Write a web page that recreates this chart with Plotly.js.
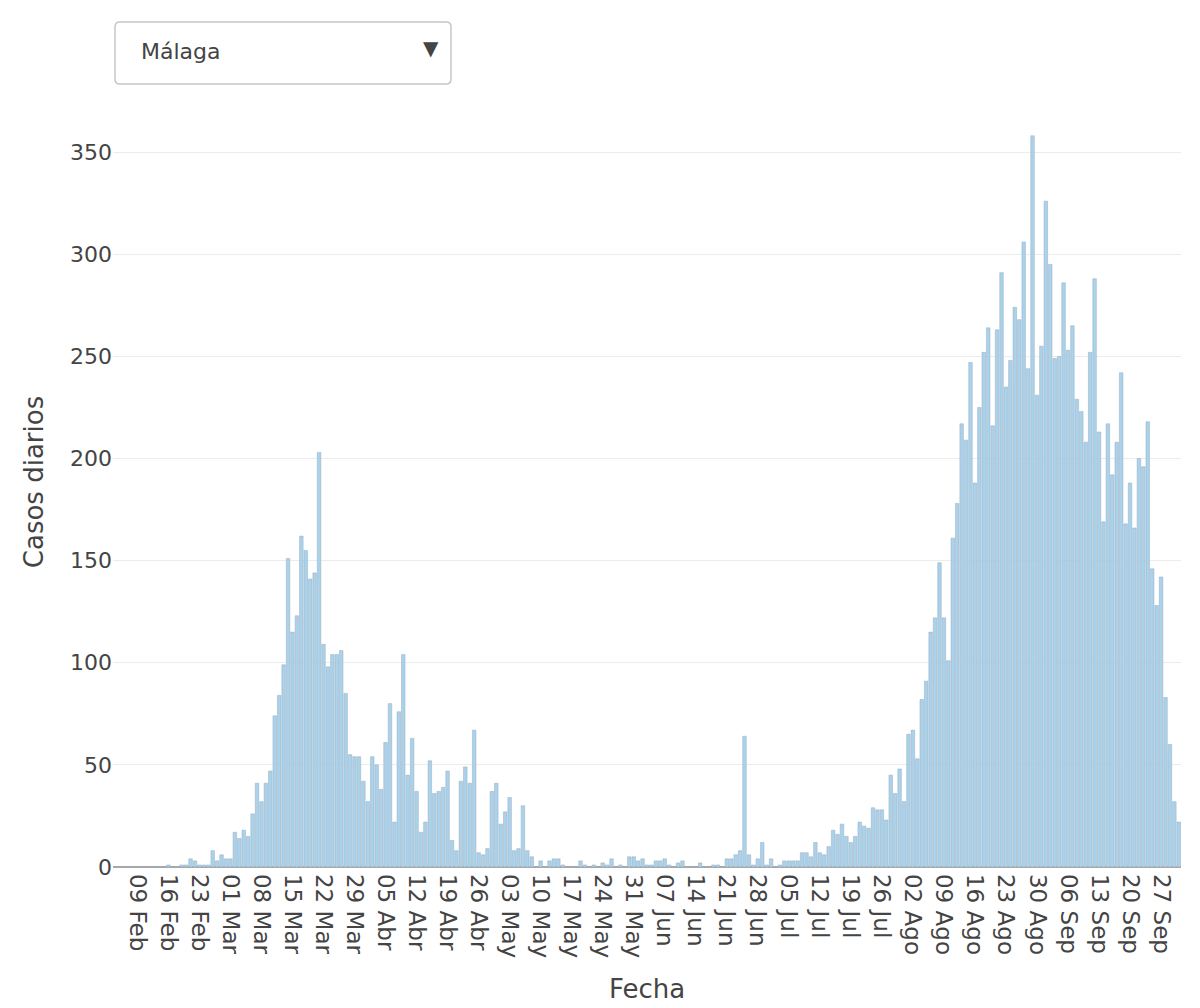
<!DOCTYPE html>
<html lang="es">
<head>
<meta charset="utf-8">
<title>Casos diarios – Málaga</title>
<script src="https://cdn.plot.ly/plotly-3.0.1.min.js"></script>
<style>
  html, body { margin: 0; padding: 0; background: #fff; }
  #chart { width: 1200px; height: 1008px; }
</style>
</head>
<body>
<div id="chart"></div>
<script>
// ── Casos diarios confirmados, provincia de Málaga ─────────────────────────────
const provincia = 'Málaga';
const primerDia = '2020-02-04';

// un valor por día, del primer día al 01 Oct
const casosFeb = [0, 0,0,0,0,0,0,0,0,0,0,0, 1,0,0,1,1,4,3,1,1,1,8,3,6,4];
const casosMar = [4,17,14,18,15,26,41,32,41,47,74,84,99,151,115,123,162,155,141,144,203,109,98,104,104,106,85,55,54,54,42];
const casosAbr = [32,54,50,38,61,80,22,76,104,45,63,37,17,22,52,36,37,39,47,13,8,42,49,41,67,7,6,9,37,41];
const casosMay = [21,27,34,8,9,30,8,5,0,3,0,3,4,4,1,0,0,0,3,1,0,1,0,2,1,4,0,1,0,5,5];
const casosJun = [3,4,1,1,3,3,4,1,0,2,3,0,0,0,2,0,0,1,1,0,4,4,6,8,64,6,1,4,12,1];
const casosJul = [4,0,1,3,3,3,3,7,7,5,12,7,6,10,18,16,21,15,12,15,22,20,19,29,28,28,23,45,36,48,32];
const casosAgo = [65,67,53,82,91,115,122,149,122,101,161,178,217,209,247,188,225,252,264,216,263,291,235,248,274,268,306,244,358,231,255];
const casosSep = [326,295,249,250,286,253,265,229,223,208,252,288,213,169,217,192,208,242,168,188,166,200,196,218,146,128,142,83,60,32];
const casosOct = [22];

const tickFechas = ['2020-02-09','2020-02-16','2020-02-23','2020-03-01','2020-03-08','2020-03-15','2020-03-22','2020-03-29',
  '2020-04-05','2020-04-12','2020-04-19','2020-04-26','2020-05-03','2020-05-10','2020-05-17','2020-05-24','2020-05-31',
  '2020-06-07','2020-06-14','2020-06-21','2020-06-28','2020-07-05','2020-07-12','2020-07-19','2020-07-26',
  '2020-08-02','2020-08-09','2020-08-16','2020-08-23','2020-08-30','2020-09-06','2020-09-13','2020-09-20','2020-09-27'];
const tickTextos = ['09 Feb','16 Feb','23 Feb','01 Mar','08 Mar','15 Mar','22 Mar','29 Mar',
  '05 Abr','12 Abr','19 Abr','26 Abr','03 May','10 May','17 May','24 May','31 May',
  '07 Jun','14 Jun','21 Jun','28 Jun','05 Jul','12 Jul','19 Jul','26 Jul',
  '02 Ago','09 Ago','16 Ago','23 Ago','30 Ago','06 Sep','13 Sep','20 Sep','27 Sep'];

const casos = [].concat(casosFeb, casosMar, casosAbr, casosMay, casosJun, casosJul, casosAgo, casosSep, casosOct);
const t0 = Date.parse(primerDia + 'T00:00:00Z');
const fechas = casos.map((_, i) => new Date(t0 + i * 864e5).toISOString().slice(0, 10));

// ── maquetación ──
const W = 1200, H = 1008;
const M = { l: 113, r: 19, t: 97, b: 141 };
const FONT = 'DejaVu Sans, Verdana, sans-serif';
const px2x = px => (px - M.l) / (W - M.l - M.r);
const px2y = py => (H - M.b - py) / (H - M.t - M.b);

// caja del selector de provincia (dibujada, no interactiva)
const box = { x0: 115, x1: 451, y0: 22, y1: 84, r: 5 };
function roundedBox(b) {
  const rx = b.r / (W - M.l - M.r), ry = b.r / (H - M.t - M.b);
  const L = px2x(b.x0), R = px2x(b.x1), T = px2y(b.y0), B = px2y(b.y1);
  return `M${L+rx},${B} L${R-rx},${B} Q${R},${B} ${R},${B+ry} L${R},${T-ry} Q${R},${T} ${R-rx},${T} ` +
         `L${L+rx},${T} Q${L},${T} ${L},${T-ry} L${L},${B+ry} Q${L},${B} ${L+rx},${B} Z`;
}

const traces = [{
  type: 'bar', x: fechas, y: casos, name: provincia,
  marker: { color: 'rgb(170,210,234)', line: { color: 'rgb(150,172,192)', width: 0.5 } },
  hovertemplate: '%{x|%d %b}<br>Casos: %{y}<extra></extra>'
}];

const layout = {
  width: W, height: H, margin: M,
  paper_bgcolor: '#fff', plot_bgcolor: '#fff',
  font: { family: FONT, size: 22, color: '#444' },
  showlegend: false, bargap: 0.2,
  xaxis: {
    type: 'date', range: ['2020-02-03 12:00', '2020-10-01 12:00'],
    tickvals: tickFechas, ticktext: tickTextos, tickangle: 90,
    showgrid: false, zeroline: false, ticks: '', ticklabelstandoff: 6,
    tickfont: { size: 23, color: '#444' },
    title: { text: 'Fecha', font: { size: 26, color: '#444' }, standoff: 22 }
  },
  yaxis: {
    range: [0, 377], dtick: 50, tick0: 0,
    gridcolor: '#ececec', gridwidth: 1,
    zeroline: true, zerolinecolor: '#a8a8a8', zerolinewidth: 2,
    ticks: '', tickfont: { size: 22, color: '#444' },
    title: { text: 'Casos diarios', font: { size: 26, color: '#444' }, standoff: 18 }
  },
  shapes: [{
    type: 'path', xref: 'paper', yref: 'paper', path: roundedBox(box),
    fillcolor: '#ffffff', line: { color: '#c6c6c6', width: 1.5 }
  }],
  annotations: [
    { xref: 'paper', yref: 'paper', x: px2x(139), y: px2y(51), xanchor: 'left', yanchor: 'middle',
      text: provincia, showarrow: false, font: { family: FONT, size: 22, color: '#444' } },
    { xref: 'paper', yref: 'paper', x: px2x(431), y: px2y(48), xanchor: 'center', yanchor: 'middle',
      text: '▼', showarrow: false, font: { family: FONT, size: 20, color: '#444' } }
  ]
};

Plotly.newPlot('chart', traces, layout, { displayModeBar: false, responsive: false });
</script>
</body>
</html>
